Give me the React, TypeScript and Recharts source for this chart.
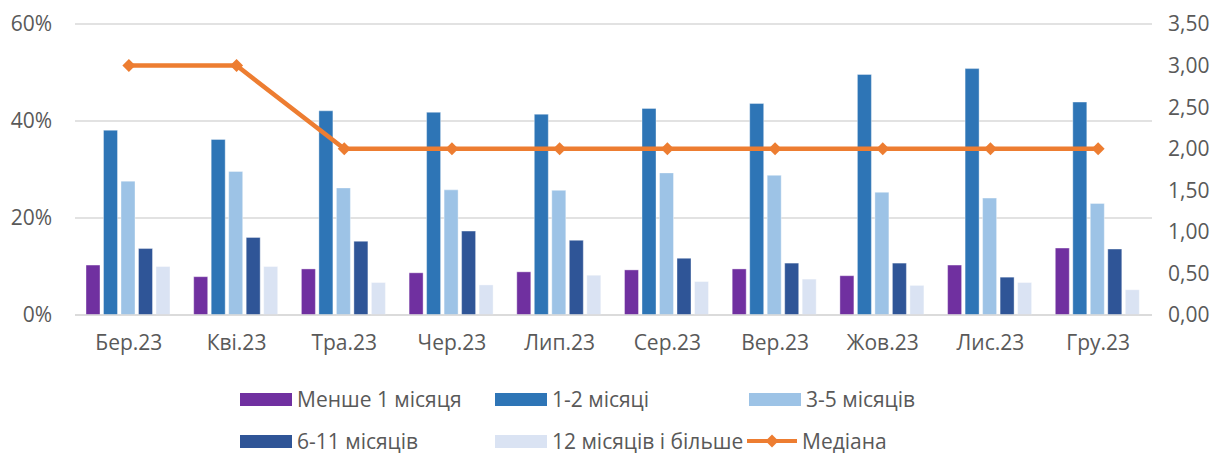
import { ComposedChart, Bar, Line, XAxis, YAxis, CartesianGrid, Legend } from 'recharts';

const months = ['Бер.23', 'Кві.23', 'Тра.23', 'Чер.23', 'Лип.23', 'Сер.23', 'Вер.23', 'Жов.23', 'Лис.23', 'Гру.23'];
const lessThan1 = [10.3, 7.9, 9.5, 8.7, 8.9, 9.3, 9.5, 8.1, 10.3, 13.8];
const m1to2 = [38.1, 36.2, 42.1, 41.8, 41.4, 42.6, 43.6, 49.6, 50.8, 43.9];
const m3to5 = [27.6, 29.6, 26.2, 25.8, 25.7, 29.3, 28.8, 25.3, 24.1, 23.0];
const m6to11 = [13.7, 16.0, 15.2, 17.3, 15.4, 11.7, 10.7, 10.7, 7.8, 13.6];
const m12plus = [10.0, 10.0, 6.7, 6.2, 8.2, 6.9, 7.4, 6.1, 6.7, 5.2];
const median = [3, 3, 2, 2, 2, 2, 2, 2, 2, 2];

const leftTicks = [0, 20, 40, 60];
const rightTicks = [0, 0.5, 1, 1.5, 2, 2.5, 3, 3.5];

const series = [
  { key: 'lessThan1', name: 'Менше 1 місяця', color: '#7030A0' },
  { key: 'm1to2', name: '1-2 місяці', color: '#2E75B6' },
  { key: 'm3to5', name: '3-5 місяців', color: '#9DC3E6' },
  { key: 'm6to11', name: '6-11 місяців', color: '#2F5597' },
  { key: 'm12plus', name: '12 місяців і більше', color: '#DAE3F3' },
];
const lineColor = '#ED7D31';

const data = months.map((month, i) => ({
  month,
  lessThan1: lessThan1[i],
  m1to2: m1to2[i],
  m3to5: m3to5[i],
  m6to11: m6to11[i],
  m12plus: m12plus[i],
  median: median[i],
}));

const font = '"Open Sans", "Noto Sans", sans-serif';
const textColor = '#595959';

// diamond marker like in Excel
const Diamond = ({ cx, cy }: { cx?: number; cy?: number }) => {
  if (cx == null || cy == null) return null;
  const r = 6.5;
  return (
    <polygon
      points={`${cx},${cy - r} ${cx + r},${cy} ${cx},${cy + r} ${cx - r},${cy}`}
      fill={lineColor}
    />
  );
};

const CustomLegend = () => {
  const items = [
    ...series.map(s => ({ name: s.name, color: s.color, line: false })),
    { name: 'Медіана', color: lineColor, line: true },
  ];
  return (
    <div
      style={{
        height: 88,
        display: 'grid',
        gridTemplateColumns: '255px 254px 250px',
        gridAutoRows: '42px',
        paddingLeft: 240,
        paddingTop: 13,
        boxSizing: 'border-box',
        fontFamily: font,
        fontSize: 21,
        lineHeight: 1,
        color: textColor,
      }}
    >
      {items.map((it, i) => (
        <div
          key={it.name}
          style={{
            display: 'flex',
            alignItems: 'center',
            height: 42,
            whiteSpace: 'nowrap',
            marginLeft: i === 5 ? -2 : 0,
          }}
        >
          {it.line ? (
            <svg width={50} height={16} style={{ marginRight: 5 }}>
              <line x1={0} y1={8} x2={50} y2={8} stroke={it.color} strokeWidth={4} />
              <polygon points="25,1.5 31.5,8 25,14.5 18.5,8" fill={it.color} />
            </svg>
          ) : (
            <div style={{ width: 52, height: 13, background: it.color, marginRight: 5 }} />
          )}
          <span>{it.name}</span>
        </div>
      ))}
    </div>
  );
};

export default function App() {
  return (
    <div style={{ width: 1219, height: 453, background: '#fff' }}>
      <style>{'body{margin:0}'}</style>
      <ComposedChart
        width={1219}
        height={453}
        data={data}
        margin={{ top: 24, right: 0, bottom: 0, left: 0 }}
        barCategoryGap={11}
        barGap={3.5}
      >
        <CartesianGrid yAxisId="left" vertical={false} stroke="#D9D9D9" strokeWidth={1.5} />
        <XAxis
          dataKey="month"
          height={50}
          tickLine={false}
          tickSize={0}
          tickMargin={20}
          axisLine={{ stroke: '#D9D9D9', strokeWidth: 1.5 }}
          tick={{ fill: textColor, fontSize: 21, fontFamily: font }}
          interval={0}
        />
        <YAxis
          yAxisId="left"
          width={75}
          domain={[0, 60]}
          ticks={leftTicks}
          axisLine={false}
          tickLine={false}
          tickSize={0}
          tickMargin={23}
          tickFormatter={(v: number) => `${v}%`}
          tick={{ fill: textColor, fontSize: 21, fontFamily: font }}
        />
        <YAxis
          yAxisId="right"
          orientation="right"
          width={67}
          domain={[0, 3.5]}
          ticks={rightTicks}
          axisLine={false}
          tickLine={false}
          tickSize={0}
          tickMargin={16}
          tickFormatter={(v: number) => v.toFixed(2).replace('.', ',')}
          tick={{ fill: textColor, fontSize: 21, fontFamily: font }}
        />
        <Legend verticalAlign="bottom" content={<CustomLegend />} wrapperStyle={{ left: 0, width: 1219 }} />
        {series.map(s => (
          <Bar
            key={s.key}
            yAxisId="left"
            dataKey={s.key}
            name={s.name}
            fill={s.color}
            stroke="#ffffff"
            strokeOpacity={0.5}
            strokeWidth={0.75}
            isAnimationActive={false}
          />
        ))}
        <Line
          yAxisId="right"
          dataKey="median"
          name="Медіана"
          stroke={lineColor}
          strokeWidth={4.5}
          type="linear"
          dot={<Diamond />}
          activeDot={false}
          isAnimationActive={false}
        />
      </ComposedChart>
    </div>
  );
}
